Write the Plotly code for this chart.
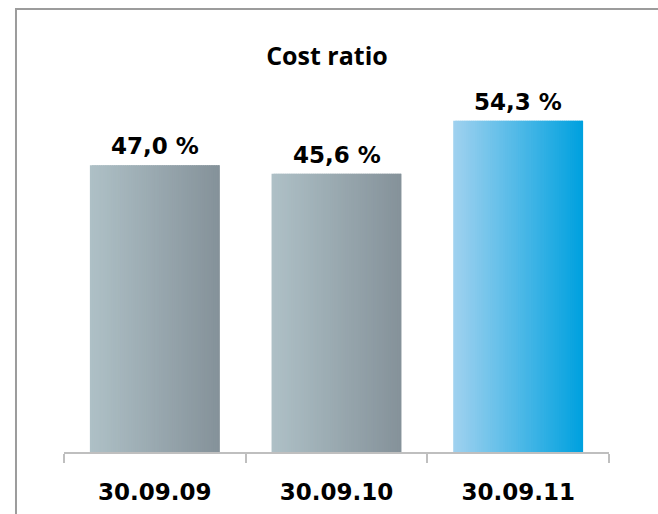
import plotly.graph_objects as go

# Chart data
categories = ["30.09.09", "30.09.10", "30.09.11"]
cost_ratio = [47.0, 45.6, 54.3]
title_text = "Cost ratio"

# Gradient end colours per bar (left edge -> right edge)
left_colors = ["#aec0c6", "#aec0c6", "#9fd1ef"]
right_colors = ["#85929a", "#85929a", "#00a1df"]


def hex_to_rgb(h):
    h = h.lstrip("#")
    return tuple(int(h[i:i + 2], 16) for i in (0, 2, 4))


def mix(c1, c2, t):
    a, b = hex_to_rgb(c1), hex_to_rgb(c2)
    return "rgb({},{},{})".format(*[round(a[k] + (b[k] - a[k]) * t) for k in range(3)])


fig = go.Figure()

# Bars with a horizontal gradient, built from narrow vertical slices
bar_width = 0.715
n_slices = 60
step = bar_width / n_slices
for i in range(n_slices):
    t = i / (n_slices - 1)
    w = step * 1.8 if i < n_slices - 1 else step
    fig.add_trace(go.Bar(
        x=categories,
        y=cost_ratio,
        width=[w] * len(categories),
        offset=[-bar_width / 2 + i * step] * len(categories),
        marker=dict(color=[mix(l, r, t) for l, r in zip(left_colors, right_colors)],
                    line=dict(width=0)),
        hoverinfo="skip",
        showlegend=False,
    ))

# Value labels above bars
for cat, v in zip(categories, cost_ratio):
    fig.add_annotation(
        x=cat, y=v, text="<b>{:.1f} %</b>".format(v).replace(".", ","),
        showarrow=False, yanchor="bottom", yshift=4,
        font=dict(family="DejaVu Sans", size=23, color="#000000"),
    )

# Outer frame
fig.add_shape(type="rect", xref="paper", yref="paper",
              x0=-0.0881, x1=1.094, y0=-0.19, y1=1.2104,
              line=dict(color="#9c9c9c", width=2), layer="below")

fig.update_layout(
    width=658, height=514,
    margin=dict(l=64, r=49, t=86, b=62, autoexpand=False),
    paper_bgcolor="white", plot_bgcolor="white",
    barmode="overlay",
    title=dict(text="<b>" + title_text + "</b>", x=327 / 658, xref="container", xanchor="center",
               y=1 - 56 / 514, yref="container", yanchor="middle",
               font=dict(family="Open Sans", size=25, color="#000000")),
    xaxis=dict(
        type="category", showline=True, linecolor="#bfbfbf", linewidth=2,
        ticks="outside", tickson="boundaries", ticklen=9, tickwidth=2, tickcolor="#bfbfbf",
        tickfont=dict(family="DejaVu Sans", size=23, color="#000000"),
        ticklabelstandoff=18, showgrid=False, zeroline=False, automargin=False,
        tickprefix="<b>", ticksuffix="</b>",
    ),
    yaxis=dict(range=[0, 60], visible=False, showgrid=False, zeroline=False),
)

fig.write_html("out.html")
